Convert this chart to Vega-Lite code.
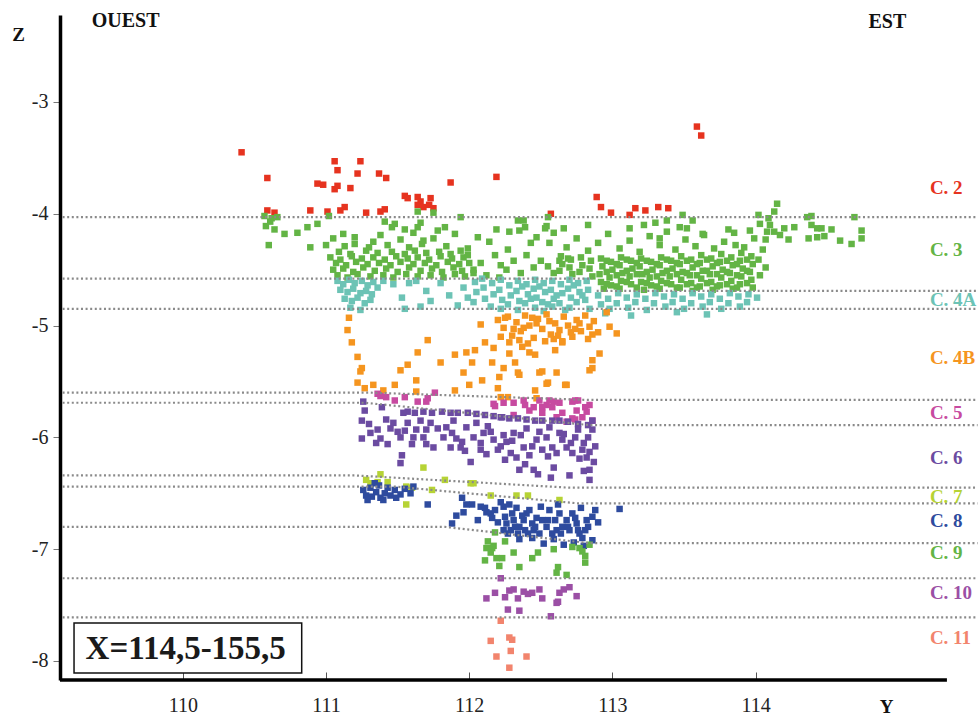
{
"$schema": "https://vega.github.io/schema/vega-lite/v6.json",
"width": 920, "height": 665,
"autosize": {"type": "none"},
"padding": {"left": 60, "top": 15, "right": 0, "bottom": 35},
"background": "white",
"config": {"view": {"stroke": null}, "font": "Liberation Serif"},
"datasets": {
"pts": [
{"y":110.41,"z":-3.45,"c":"2"},{"y":110.59,"z":-3.68,"c":"2"},{"y":110.59,"z":-3.97,"c":"2"},{"y":110.64,"z":-3.99,"c":"2"},{"y":110.89,"z":-3.97,"c":"2"},{"y":110.94,"z":-3.73,"c":"2"},{"y":110.98,"z":-3.74,"c":"2"},{"y":111.01,"z":-3.98,"c":"2"},{"y":111.06,"z":-3.53,"c":"2"},{"y":111.08,"z":-3.61,"c":"2"},{"y":111.06,"z":-3.78,"c":"2"},{"y":111.08,"z":-3.75,"c":"2"},{"y":111.17,"z":-3.77,"c":"2"},{"y":111.10,"z":-3.97,"c":"2"},{"y":111.13,"z":-3.94,"c":"2"},{"y":111.22,"z":-3.64,"c":"2"},{"y":111.24,"z":-3.53,"c":"2"},{"y":111.28,"z":-3.99,"c":"2"},{"y":111.37,"z":-3.64,"c":"2"},{"y":111.42,"z":-3.68,"c":"2"},{"y":111.38,"z":-3.98,"c":"2"},{"y":111.41,"z":-3.96,"c":"2"},{"y":111.55,"z":-3.84,"c":"2"},{"y":111.57,"z":-3.86,"c":"2"},{"y":111.64,"z":-3.85,"c":"2"},{"y":111.66,"z":-3.89,"c":"2"},{"y":111.64,"z":-3.92,"c":"2"},{"y":111.68,"z":-3.94,"c":"2"},{"y":111.73,"z":-3.86,"c":"2"},{"y":111.72,"z":-3.92,"c":"2"},{"y":111.75,"z":-3.95,"c":"2"},{"y":111.87,"z":-3.72,"c":"2"},{"y":112.19,"z":-3.67,"c":"2"},{"y":112.57,"z":-4.00,"c":"2"},{"y":112.89,"z":-3.85,"c":"2"},{"y":112.92,"z":-3.94,"c":"2"},{"y":112.99,"z":-3.99,"c":"2"},{"y":113.12,"z":-4.01,"c":"2"},{"y":113.16,"z":-3.95,"c":"2"},{"y":113.23,"z":-3.97,"c":"2"},{"y":113.32,"z":-3.94,"c":"2"},{"y":113.39,"z":-3.95,"c":"2"},{"y":113.59,"z":-3.22,"c":"2"},{"y":113.62,"z":-3.30,"c":"2"},
{"y":110.57,"z":-4.02,"c":"3"},{"y":110.61,"z":-4.07,"c":"3"},{"y":110.58,"z":-4.11,"c":"3"},{"y":110.64,"z":-4.14,"c":"3"},{"y":110.60,"z":-4.28,"c":"3"},{"y":110.71,"z":-4.18,"c":"3"},{"y":110.80,"z":-4.17,"c":"3"},{"y":110.87,"z":-4.12,"c":"3"},{"y":110.94,"z":-4.09,"c":"3"},{"y":110.89,"z":-4.30,"c":"3"},{"y":111.02,"z":-4.02,"c":"3"},{"y":110.62,"z":-4.04,"c":"3"},{"y":110.66,"z":-4.03,"c":"3"},{"y":111.41,"z":-4.07,"c":"3"},{"y":111.48,"z":-4.09,"c":"3"},{"y":111.64,"z":-3.98,"c":"3"},{"y":111.75,"z":-3.99,"c":"3"},{"y":111.66,"z":-4.08,"c":"3"},{"y":111.64,"z":-4.12,"c":"3"},{"y":111.83,"z":-4.12,"c":"3"},{"y":111.94,"z":-4.03,"c":"3"},{"y":112.19,"z":-4.14,"c":"3"},{"y":112.34,"z":-4.06,"c":"3"},{"y":112.39,"z":-4.12,"c":"3"},{"y":112.54,"z":-4.11,"c":"3"},{"y":112.55,"z":-4.03,"c":"3"},{"y":112.83,"z":-4.10,"c":"3"},{"y":113.12,"z":-4.13,"c":"3"},{"y":113.22,"z":-4.10,"c":"3"},{"y":113.30,"z":-4.08,"c":"3"},{"y":111.05,"z":-4.22,"c":"3"},{"y":111.12,"z":-4.18,"c":"3"},{"y":111.20,"z":-4.27,"c":"3"},{"y":111.00,"z":-4.28,"c":"3"},
{"y":111.08,"z":-4.55,"c":"3"},{"y":111.15,"z":-4.57,"c":"3"},{"y":111.22,"z":-4.54,"c":"3"},{"y":111.31,"z":-4.56,"c":"3"},{"y":111.40,"z":-4.55,"c":"3"},{"y":111.47,"z":-4.57,"c":"3"},{"y":111.56,"z":-4.54,"c":"3"},{"y":111.64,"z":-4.56,"c":"3"},{"y":111.73,"z":-4.55,"c":"3"},{"y":111.82,"z":-4.57,"c":"3"},{"y":111.90,"z":-4.54,"c":"3"},{"y":111.97,"z":-4.56,"c":"3"},
{"y":111.05,"z":-4.50,"c":"3"},{"y":111.12,"z":-4.49,"c":"3"},{"y":111.19,"z":-4.52,"c":"3"},{"y":111.26,"z":-4.48,"c":"3"},{"y":111.34,"z":-4.51,"c":"3"},{"y":111.42,"z":-4.49,"c":"3"},{"y":111.50,"z":-4.52,"c":"3"},{"y":111.58,"z":-4.48,"c":"3"},{"y":111.66,"z":-4.51,"c":"3"},{"y":111.74,"z":-4.49,"c":"3"},{"y":111.81,"z":-4.52,"c":"3"},{"y":111.89,"z":-4.48,"c":"3"},{"y":111.95,"z":-4.51,"c":"3"},{"y":112.03,"z":-4.53,"c":"3"},
{"y":111.07,"z":-4.44,"c":"3"},{"y":111.14,"z":-4.46,"c":"3"},{"y":111.21,"z":-4.43,"c":"3"},{"y":111.29,"z":-4.45,"c":"3"},{"y":111.37,"z":-4.44,"c":"3"},{"y":111.45,"z":-4.46,"c":"3"},{"y":111.52,"z":-4.43,"c":"3"},{"y":111.61,"z":-4.45,"c":"3"},{"y":111.69,"z":-4.44,"c":"3"},{"y":111.77,"z":-4.46,"c":"3"},{"y":111.85,"z":-4.43,"c":"3"},{"y":111.93,"z":-4.45,"c":"3"},{"y":112.00,"z":-4.44,"c":"3"},
{"y":111.03,"z":-4.39,"c":"3"},{"y":111.10,"z":-4.41,"c":"3"},{"y":111.18,"z":-4.38,"c":"3"},{"y":111.25,"z":-4.40,"c":"3"},{"y":111.33,"z":-4.39,"c":"3"},{"y":111.41,"z":-4.41,"c":"3"},{"y":111.49,"z":-4.38,"c":"3"},{"y":111.57,"z":-4.40,"c":"3"},{"y":111.64,"z":-4.39,"c":"3"},{"y":111.72,"z":-4.41,"c":"3"},{"y":111.80,"z":-4.38,"c":"3"},{"y":111.88,"z":-4.40,"c":"3"},{"y":111.96,"z":-4.39,"c":"3"},
{"y":111.09,"z":-4.34,"c":"3"},{"y":111.17,"z":-4.36,"c":"3"},{"y":111.28,"z":-4.33,"c":"3"},{"y":111.36,"z":-4.35,"c":"3"},{"y":111.46,"z":-4.34,"c":"3"},{"y":111.55,"z":-4.36,"c":"3"},{"y":111.62,"z":-4.33,"c":"3"},{"y":111.70,"z":-4.35,"c":"3"},{"y":111.79,"z":-4.34,"c":"3"},{"y":111.87,"z":-4.36,"c":"3"},{"y":111.94,"z":-4.33,"c":"3"},
{"y":111.13,"z":-4.29,"c":"3"},{"y":111.30,"z":-4.30,"c":"3"},{"y":111.43,"z":-4.28,"c":"3"},{"y":111.58,"z":-4.30,"c":"3"},{"y":111.67,"z":-4.27,"c":"3"},{"y":111.84,"z":-4.29,"c":"3"},{"y":111.99,"z":-4.31,"c":"3"},{"y":111.20,"z":-4.21,"c":"3"},{"y":111.38,"z":-4.19,"c":"3"},{"y":111.52,"z":-4.23,"c":"3"},{"y":111.61,"z":-4.17,"c":"3"},{"y":111.75,"z":-4.22,"c":"3"},{"y":111.90,"z":-4.18,"c":"3"},{"y":111.33,"z":-4.25,"c":"3"},{"y":111.68,"z":-4.24,"c":"3"},{"y":111.55,"z":-4.14,"c":"3"},{"y":111.46,"z":-4.12,"c":"3"},{"y":111.78,"z":-4.15,"c":"3"},
{"y":111.99,"z":-4.37,"c":"3"},{"y":112.06,"z":-4.21,"c":"3"},{"y":112.14,"z":-4.25,"c":"3"},{"y":112.18,"z":-4.37,"c":"3"},{"y":112.27,"z":-4.32,"c":"3"},{"y":112.28,"z":-4.16,"c":"3"},{"y":112.35,"z":-4.15,"c":"3"},{"y":112.38,"z":-4.06,"c":"3"},{"y":112.43,"z":-4.26,"c":"3"},{"y":112.47,"z":-4.21,"c":"3"},{"y":112.53,"z":-4.13,"c":"3"},{"y":112.56,"z":-4.26,"c":"3"},{"y":112.59,"z":-4.17,"c":"3"},{"y":112.66,"z":-4.13,"c":"3"},{"y":112.69,"z":-4.40,"c":"3"},{"y":112.03,"z":-4.50,"c":"3"},{"y":112.12,"z":-4.55,"c":"3"},{"y":112.21,"z":-4.57,"c":"3"},{"y":112.26,"z":-4.50,"c":"3"},{"y":112.31,"z":-4.42,"c":"3"},{"y":112.40,"z":-4.37,"c":"3"},{"y":112.45,"z":-4.48,"c":"3"},{"y":112.50,"z":-4.42,"c":"3"},{"y":112.59,"z":-4.53,"c":"3"},{"y":112.63,"z":-4.42,"c":"3"},{"y":112.08,"z":-4.44,"c":"3"},{"y":112.22,"z":-4.46,"c":"3"},{"y":112.36,"z":-4.53,"c":"3"},{"y":112.55,"z":-4.47,"c":"3"},
{"y":112.64,"z":-4.38,"c":"3"},{"y":112.65,"z":-4.45,"c":"3"},{"y":112.63,"z":-4.51,"c":"3"},{"y":112.71,"z":-4.41,"c":"3"},{"y":112.70,"z":-4.48,"c":"3"},{"y":112.72,"z":-4.54,"c":"3"},{"y":112.78,"z":-4.39,"c":"3"},{"y":112.79,"z":-4.46,"c":"3"},{"y":112.77,"z":-4.52,"c":"3"},{"y":112.85,"z":-4.42,"c":"3"},{"y":112.84,"z":-4.49,"c":"3"},{"y":112.86,"z":-4.56,"c":"3"},
{"y":112.92,"z":-4.40,"c":"3"},{"y":112.93,"z":-4.47,"c":"3"},{"y":112.91,"z":-4.54,"c":"3"},{"y":112.92,"z":-4.61,"c":"3"},{"y":112.94,"z":-4.67,"c":"3"},{"y":112.99,"z":-4.43,"c":"3"},{"y":113.00,"z":-4.50,"c":"3"},{"y":112.98,"z":-4.57,"c":"3"},{"y":112.99,"z":-4.64,"c":"3"},{"y":113.06,"z":-4.39,"c":"3"},{"y":113.05,"z":-4.46,"c":"3"},{"y":113.07,"z":-4.53,"c":"3"},{"y":113.06,"z":-4.60,"c":"3"},{"y":113.05,"z":-4.67,"c":"3"},{"y":113.13,"z":-4.42,"c":"3"},{"y":113.14,"z":-4.49,"c":"3"},{"y":113.12,"z":-4.56,"c":"3"},{"y":113.13,"z":-4.63,"c":"3"},{"y":113.20,"z":-4.40,"c":"3"},{"y":113.19,"z":-4.47,"c":"3"},{"y":113.21,"z":-4.54,"c":"3"},{"y":113.20,"z":-4.61,"c":"3"},{"y":113.22,"z":-4.68,"c":"3"},{"y":113.27,"z":-4.43,"c":"3"},{"y":113.28,"z":-4.50,"c":"3"},{"y":113.26,"z":-4.57,"c":"3"},{"y":113.27,"z":-4.64,"c":"3"},{"y":113.34,"z":-4.39,"c":"3"},{"y":113.33,"z":-4.46,"c":"3"},{"y":113.35,"z":-4.53,"c":"3"},{"y":113.34,"z":-4.60,"c":"3"},{"y":113.33,"z":-4.67,"c":"3"},{"y":113.41,"z":-4.42,"c":"3"},{"y":113.42,"z":-4.49,"c":"3"},{"y":113.40,"z":-4.56,"c":"3"},{"y":113.41,"z":-4.63,"c":"3"},{"y":113.48,"z":-4.38,"c":"3"},{"y":113.47,"z":-4.45,"c":"3"},{"y":113.49,"z":-4.52,"c":"3"},{"y":113.48,"z":-4.59,"c":"3"},{"y":113.47,"z":-4.66,"c":"3"},{"y":113.55,"z":-4.41,"c":"3"},{"y":113.56,"z":-4.48,"c":"3"},{"y":113.54,"z":-4.55,"c":"3"},{"y":113.55,"z":-4.62,"c":"3"},{"y":113.56,"z":-4.69,"c":"3"},{"y":113.62,"z":-4.37,"c":"3"},{"y":113.61,"z":-4.44,"c":"3"},{"y":113.63,"z":-4.51,"c":"3"},{"y":113.62,"z":-4.58,"c":"3"},{"y":113.61,"z":-4.65,"c":"3"},{"y":113.69,"z":-4.40,"c":"3"},{"y":113.70,"z":-4.47,"c":"3"},{"y":113.68,"z":-4.54,"c":"3"},{"y":113.69,"z":-4.61,"c":"3"},{"y":113.70,"z":-4.68,"c":"3"},{"y":113.76,"z":-4.36,"c":"3"},{"y":113.75,"z":-4.43,"c":"3"},{"y":113.77,"z":-4.50,"c":"3"},{"y":113.76,"z":-4.57,"c":"3"},{"y":113.75,"z":-4.64,"c":"3"},{"y":113.83,"z":-4.39,"c":"3"},{"y":113.84,"z":-4.46,"c":"3"},{"y":113.82,"z":-4.53,"c":"3"},{"y":113.83,"z":-4.60,"c":"3"},{"y":113.84,"z":-4.67,"c":"3"},{"y":113.90,"z":-4.35,"c":"3"},{"y":113.89,"z":-4.42,"c":"3"},{"y":113.91,"z":-4.49,"c":"3"},{"y":113.90,"z":-4.56,"c":"3"},{"y":113.89,"z":-4.63,"c":"3"},{"y":113.97,"z":-4.38,"c":"3"},{"y":113.98,"z":-4.45,"c":"3"},{"y":113.96,"z":-4.52,"c":"3"},{"y":113.97,"z":-4.59,"c":"3"},{"y":113.98,"z":-4.66,"c":"3"},{"y":114.02,"z":-4.41,"c":"3"},{"y":114.03,"z":-4.55,"c":"3"},
{"y":112.96,"z":-4.42,"c":"3"},{"y":112.96,"z":-4.52,"c":"3"},{"y":112.96,"z":-4.63,"c":"3"},{"y":113.03,"z":-4.45,"c":"3"},{"y":113.03,"z":-4.55,"c":"3"},{"y":113.03,"z":-4.65,"c":"3"},{"y":113.10,"z":-4.41,"c":"3"},{"y":113.10,"z":-4.51,"c":"3"},{"y":113.10,"z":-4.61,"c":"3"},{"y":113.17,"z":-4.44,"c":"3"},{"y":113.17,"z":-4.54,"c":"3"},{"y":113.17,"z":-4.66,"c":"3"},{"y":113.24,"z":-4.42,"c":"3"},{"y":113.24,"z":-4.52,"c":"3"},{"y":113.24,"z":-4.62,"c":"3"},{"y":113.31,"z":-4.45,"c":"3"},{"y":113.31,"z":-4.56,"c":"3"},{"y":113.31,"z":-4.65,"c":"3"},{"y":113.38,"z":-4.41,"c":"3"},{"y":113.38,"z":-4.51,"c":"3"},{"y":113.38,"z":-4.62,"c":"3"},{"y":113.45,"z":-4.44,"c":"3"},{"y":113.45,"z":-4.54,"c":"3"},{"y":113.45,"z":-4.66,"c":"3"},{"y":113.52,"z":-4.42,"c":"3"},{"y":113.52,"z":-4.53,"c":"3"},{"y":113.52,"z":-4.63,"c":"3"},{"y":113.59,"z":-4.45,"c":"3"},{"y":113.59,"z":-4.55,"c":"3"},{"y":113.59,"z":-4.66,"c":"3"},{"y":113.66,"z":-4.41,"c":"3"},{"y":113.66,"z":-4.51,"c":"3"},{"y":113.66,"z":-4.62,"c":"3"},{"y":113.73,"z":-4.44,"c":"3"},{"y":113.73,"z":-4.54,"c":"3"},{"y":113.73,"z":-4.65,"c":"3"},{"y":113.80,"z":-4.42,"c":"3"},{"y":113.80,"z":-4.52,"c":"3"},{"y":113.80,"z":-4.63,"c":"3"},{"y":113.87,"z":-4.45,"c":"3"},{"y":113.87,"z":-4.55,"c":"3"},{"y":113.87,"z":-4.66,"c":"3"},{"y":113.94,"z":-4.41,"c":"3"},{"y":113.94,"z":-4.51,"c":"3"},{"y":113.94,"z":-4.62,"c":"3"},
{"y":112.68,"z":-4.30,"c":"3"},{"y":112.75,"z":-4.22,"c":"3"},{"y":112.83,"z":-4.33,"c":"3"},{"y":112.90,"z":-4.26,"c":"3"},{"y":112.97,"z":-4.18,"c":"3"},{"y":113.05,"z":-4.31,"c":"3"},{"y":113.12,"z":-4.24,"c":"3"},{"y":113.19,"z":-4.34,"c":"3"},{"y":113.26,"z":-4.20,"c":"3"},{"y":113.33,"z":-4.28,"c":"3"},{"y":113.38,"z":-4.16,"c":"3"},{"y":113.44,"z":-4.32,"c":"3"},{"y":113.51,"z":-4.23,"c":"3"},{"y":113.58,"z":-4.29,"c":"3"},{"y":113.64,"z":-4.19,"c":"3"},{"y":113.71,"z":-4.31,"c":"3"},{"y":113.78,"z":-4.25,"c":"3"},{"y":113.85,"z":-4.17,"c":"3"},{"y":113.92,"z":-4.30,"c":"3"},{"y":113.99,"z":-4.22,"c":"3"},{"y":113.47,"z":-4.12,"c":"3"},{"y":113.86,"z":-4.28,"c":"3"},{"y":113.49,"z":-4.01,"c":"3"},{"y":113.56,"z":-4.06,"c":"3"},{"y":113.38,"z":-4.06,"c":"3"},{"y":113.52,"z":-4.13,"c":"3"},{"y":113.33,"z":-4.22,"c":"3"},{"y":113.81,"z":-4.14,"c":"3"},{"y":114.02,"z":-4.01,"c":"3"},{"y":114.03,"z":-4.09,"c":"3"},{"y":113.96,"z":-4.15,"c":"3"},{"y":113.63,"z":-4.18,"c":"3"},
{"y":114.15,"z":-3.91,"c":"3"},{"y":114.13,"z":-3.98,"c":"3"},{"y":114.09,"z":-4.04,"c":"3"},{"y":114.36,"z":-4.03,"c":"3"},{"y":114.39,"z":-4.02,"c":"3"},{"y":114.69,"z":-4.03,"c":"3"},{"y":114.39,"z":-4.10,"c":"3"},{"y":114.43,"z":-4.13,"c":"3"},{"y":114.46,"z":-4.13,"c":"3"},{"y":114.53,"z":-4.14,"c":"3"},{"y":114.74,"z":-4.15,"c":"3"},{"y":114.37,"z":-4.22,"c":"3"},{"y":114.43,"z":-4.21,"c":"3"},{"y":114.48,"z":-4.20,"c":"3"},{"y":114.59,"z":-4.24,"c":"3"},{"y":114.67,"z":-4.27,"c":"3"},{"y":114.74,"z":-4.22,"c":"3"},{"y":114.23,"z":-4.23,"c":"3"},{"y":114.17,"z":-4.19,"c":"3"},{"y":114.13,"z":-4.16,"c":"3"},{"y":114.08,"z":-4.16,"c":"3"},{"y":114.07,"z":-4.23,"c":"3"},{"y":114.20,"z":-4.13,"c":"3"},{"y":114.10,"z":-4.10,"c":"3"},{"y":114.27,"z":-4.12,"c":"3"},{"y":114.07,"z":-4.48,"c":"3"},{"y":114.05,"z":-4.32,"c":"3"},
{"y":111.08,"z":-4.60,"c":"4A"},{"y":111.12,"z":-4.63,"c":"4A"},{"y":111.16,"z":-4.59,"c":"4A"},{"y":111.20,"z":-4.62,"c":"4A"},{"y":111.25,"z":-4.60,"c":"4A"},{"y":111.29,"z":-4.64,"c":"4A"},{"y":111.33,"z":-4.61,"c":"4A"},{"y":111.10,"z":-4.68,"c":"4A"},{"y":111.15,"z":-4.70,"c":"4A"},{"y":111.19,"z":-4.67,"c":"4A"},{"y":111.24,"z":-4.71,"c":"4A"},{"y":111.28,"z":-4.69,"c":"4A"},{"y":111.32,"z":-4.72,"c":"4A"},{"y":111.36,"z":-4.66,"c":"4A"},{"y":111.13,"z":-4.76,"c":"4A"},{"y":111.18,"z":-4.78,"c":"4A"},{"y":111.22,"z":-4.75,"c":"4A"},{"y":111.27,"z":-4.80,"c":"4A"},{"y":111.31,"z":-4.77,"c":"4A"},{"y":111.17,"z":-4.84,"c":"4A"},{"y":111.24,"z":-4.86,"c":"4A"},
{"y":111.40,"z":-4.60,"c":"4A"},{"y":111.47,"z":-4.63,"c":"4A"},{"y":111.53,"z":-4.75,"c":"4A"},{"y":111.58,"z":-4.62,"c":"4A"},{"y":111.63,"z":-4.60,"c":"4A"},{"y":111.70,"z":-4.69,"c":"4A"},{"y":111.73,"z":-4.78,"c":"4A"},{"y":111.80,"z":-4.62,"c":"4A"},{"y":111.86,"z":-4.73,"c":"4A"},{"y":111.92,"z":-4.82,"c":"4A"},{"y":111.96,"z":-4.66,"c":"4A"},{"y":111.99,"z":-4.75,"c":"4A"},{"y":111.55,"z":-4.85,"c":"4A"},{"y":111.66,"z":-4.83,"c":"4A"},
{"y":112.04,"z":-4.61,"c":"4A"},{"y":112.05,"z":-4.70,"c":"4A"},{"y":112.03,"z":-4.79,"c":"4A"},{"y":112.10,"z":-4.66,"c":"4A"},{"y":112.11,"z":-4.76,"c":"4A"},{"y":112.09,"z":-4.58,"c":"4A"},{"y":112.16,"z":-4.62,"c":"4A"},{"y":112.17,"z":-4.72,"c":"4A"},{"y":112.15,"z":-4.83,"c":"4A"},{"y":112.22,"z":-4.59,"c":"4A"},{"y":112.21,"z":-4.68,"c":"4A"},{"y":112.23,"z":-4.77,"c":"4A"},{"y":112.22,"z":-4.85,"c":"4A"},{"y":112.28,"z":-4.64,"c":"4A"},{"y":112.29,"z":-4.73,"c":"4A"},{"y":112.27,"z":-4.81,"c":"4A"},{"y":112.34,"z":-4.60,"c":"4A"},{"y":112.33,"z":-4.69,"c":"4A"},{"y":112.35,"z":-4.78,"c":"4A"},{"y":112.34,"z":-4.86,"c":"4A"},{"y":112.40,"z":-4.63,"c":"4A"},{"y":112.41,"z":-4.72,"c":"4A"},{"y":112.39,"z":-4.80,"c":"4A"},{"y":112.46,"z":-4.59,"c":"4A"},{"y":112.45,"z":-4.67,"c":"4A"},{"y":112.47,"z":-4.75,"c":"4A"},{"y":112.46,"z":-4.84,"c":"4A"},{"y":112.52,"z":-4.62,"c":"4A"},{"y":112.53,"z":-4.70,"c":"4A"},{"y":112.51,"z":-4.79,"c":"4A"},{"y":112.52,"z":-4.87,"c":"4A"},{"y":112.58,"z":-4.60,"c":"4A"},{"y":112.57,"z":-4.68,"c":"4A"},{"y":112.59,"z":-4.76,"c":"4A"},{"y":112.58,"z":-4.83,"c":"4A"},{"y":112.64,"z":-4.63,"c":"4A"},{"y":112.65,"z":-4.71,"c":"4A"},{"y":112.63,"z":-4.80,"c":"4A"},{"y":112.70,"z":-4.59,"c":"4A"},{"y":112.69,"z":-4.67,"c":"4A"},{"y":112.71,"z":-4.75,"c":"4A"},{"y":112.70,"z":-4.84,"c":"4A"},{"y":112.76,"z":-4.62,"c":"4A"},{"y":112.77,"z":-4.70,"c":"4A"},{"y":112.75,"z":-4.79,"c":"4A"},{"y":112.82,"z":-4.60,"c":"4A"},{"y":112.83,"z":-4.68,"c":"4A"},{"y":112.81,"z":-4.77,"c":"4A"},{"y":112.84,"z":-4.85,"c":"4A"},{"y":112.49,"z":-4.65,"c":"4A"},{"y":112.61,"z":-4.73,"c":"4A"},{"y":112.73,"z":-4.64,"c":"4A"},{"y":112.55,"z":-4.81,"c":"4A"},{"y":112.67,"z":-4.86,"c":"4A"},{"y":112.79,"z":-4.73,"c":"4A"},{"y":112.43,"z":-4.76,"c":"4A"},{"y":112.37,"z":-4.65,"c":"4A"},
{"y":112.90,"z":-4.73,"c":"4A"},{"y":112.92,"z":-4.81,"c":"4A"},{"y":112.97,"z":-4.76,"c":"4A"},{"y":112.98,"z":-4.85,"c":"4A"},{"y":113.04,"z":-4.71,"c":"4A"},{"y":113.03,"z":-4.80,"c":"4A"},{"y":113.10,"z":-4.75,"c":"4A"},{"y":113.11,"z":-4.84,"c":"4A"},{"y":113.17,"z":-4.72,"c":"4A"},{"y":113.16,"z":-4.79,"c":"4A"},{"y":113.23,"z":-4.76,"c":"4A"},{"y":113.24,"z":-4.86,"c":"4A"},{"y":113.30,"z":-4.71,"c":"4A"},{"y":113.29,"z":-4.80,"c":"4A"},{"y":113.36,"z":-4.74,"c":"4A"},{"y":113.37,"z":-4.83,"c":"4A"},{"y":113.43,"z":-4.72,"c":"4A"},{"y":113.42,"z":-4.79,"c":"4A"},{"y":113.49,"z":-4.76,"c":"4A"},{"y":113.50,"z":-4.85,"c":"4A"},{"y":113.56,"z":-4.71,"c":"4A"},{"y":113.55,"z":-4.80,"c":"4A"},{"y":113.62,"z":-4.74,"c":"4A"},{"y":113.63,"z":-4.83,"c":"4A"},{"y":113.69,"z":-4.72,"c":"4A"},{"y":113.68,"z":-4.79,"c":"4A"},{"y":113.75,"z":-4.76,"c":"4A"},{"y":113.76,"z":-4.85,"c":"4A"},{"y":113.82,"z":-4.71,"c":"4A"},{"y":113.81,"z":-4.80,"c":"4A"},{"y":113.88,"z":-4.74,"c":"4A"},{"y":113.89,"z":-4.83,"c":"4A"},{"y":113.95,"z":-4.72,"c":"4A"},{"y":113.94,"z":-4.79,"c":"4A"},{"y":114.01,"z":-4.75,"c":"4A"},{"y":113.13,"z":-4.91,"c":"4A"},{"y":113.66,"z":-4.90,"c":"4A"},{"y":113.45,"z":-4.88,"c":"4A"},{"y":112.95,"z":-4.89,"c":"4A"},
{"y":111.16,"z":-4.93,"c":"4B"},{"y":111.15,"z":-5.04,"c":"4B"},{"y":111.18,"z":-5.15,"c":"4B"},{"y":111.22,"z":-5.28,"c":"4B"},{"y":111.25,"z":-5.38,"c":"4B"},{"y":111.24,"z":-5.41,"c":"4B"},{"y":111.22,"z":-5.51,"c":"4B"},{"y":111.27,"z":-5.56,"c":"4B"},{"y":111.33,"z":-5.53,"c":"4B"},{"y":111.40,"z":-5.58,"c":"4B"},{"y":111.48,"z":-5.53,"c":"4B"},{"y":111.52,"z":-5.40,"c":"4B"},{"y":111.57,"z":-5.35,"c":"4B"},{"y":111.63,"z":-5.49,"c":"4B"},{"y":111.63,"z":-5.59,"c":"4B"},{"y":111.64,"z":-5.24,"c":"4B"},{"y":111.71,"z":-5.13,"c":"4B"},{"y":111.80,"z":-5.33,"c":"4B"},{"y":111.90,"z":-5.26,"c":"4B"},{"y":111.90,"z":-5.58,"c":"4B"},{"y":111.96,"z":-5.42,"c":"4B"},{"y":112.00,"z":-5.53,"c":"4B"},{"y":112.08,"z":-4.99,"c":"4B"},{"y":111.98,"z":-5.24,"c":"4B"},{"y":112.04,"z":-5.22,"c":"4B"},{"y":112.11,"z":-5.15,"c":"4B"},{"y":112.17,"z":-5.20,"c":"4B"},{"y":112.02,"z":-5.33,"c":"4B"},{"y":112.16,"z":-5.33,"c":"4B"},{"y":112.24,"z":-5.38,"c":"4B"},{"y":112.21,"z":-5.46,"c":"4B"},{"y":112.09,"z":-5.49,"c":"4B"},{"y":112.20,"z":-5.56,"c":"4B"},{"y":112.22,"z":-5.64,"c":"4B"},{"y":112.27,"z":-5.64,"c":"4B"},{"y":112.34,"z":-5.42,"c":"4B"},{"y":112.32,"z":-5.33,"c":"4B"},{"y":112.28,"z":-5.25,"c":"4B"},{"y":112.37,"z":-5.19,"c":"4B"},{"y":112.42,"z":-5.24,"c":"4B"},{"y":112.46,"z":-5.26,"c":"4B"},{"y":112.49,"z":-5.42,"c":"4B"},{"y":112.51,"z":-5.41,"c":"4B"},{"y":112.55,"z":-5.51,"c":"4B"},{"y":112.46,"z":-5.58,"c":"4B"},{"y":112.61,"z":-5.42,"c":"4B"},{"y":112.68,"z":-5.53,"c":"4B"},{"y":112.60,"z":-5.22,"c":"4B"},{"y":112.65,"z":-5.15,"c":"4B"},{"y":112.86,"z":-5.31,"c":"4B"},{"y":112.86,"z":-5.38,"c":"4B"},{"y":112.91,"z":-5.25,"c":"4B"},{"y":112.98,"z":-5.01,"c":"4B"},{"y":113.03,"z":-5.07,"c":"4B"},{"y":112.96,"z":-4.88,"c":"4B"},{"y":112.35,"z":-5.44,"c":"4B"},{"y":112.54,"z":-5.52,"c":"4B"},{"y":112.67,"z":-5.53,"c":"4B"},{"y":112.47,"z":-5.65,"c":"4B"},{"y":112.84,"z":-5.40,"c":"4B"},
{"y":112.20,"z":-4.95,"c":"4B"},{"y":112.24,"z":-5.02,"c":"4B"},{"y":112.27,"z":-4.92,"c":"4B"},{"y":112.30,"z":-5.09,"c":"4B"},{"y":112.33,"z":-4.97,"c":"4B"},{"y":112.36,"z":-5.05,"c":"4B"},{"y":112.39,"z":-4.91,"c":"4B"},{"y":112.42,"z":-5.00,"c":"4B"},{"y":112.45,"z":-5.11,"c":"4B"},{"y":112.48,"z":-4.94,"c":"4B"},{"y":112.51,"z":-5.03,"c":"4B"},{"y":112.54,"z":-4.90,"c":"4B"},{"y":112.57,"z":-5.08,"c":"4B"},{"y":112.60,"z":-4.98,"c":"4B"},{"y":112.63,"z":-5.04,"c":"4B"},{"y":112.66,"z":-4.92,"c":"4B"},{"y":112.69,"z":-5.00,"c":"4B"},{"y":112.72,"z":-5.10,"c":"4B"},{"y":112.75,"z":-4.95,"c":"4B"},{"y":112.78,"z":-5.05,"c":"4B"},{"y":112.81,"z":-4.91,"c":"4B"},{"y":112.84,"z":-5.01,"c":"4B"},{"y":112.87,"z":-4.96,"c":"4B"},{"y":112.90,"z":-5.06,"c":"4B"},{"y":112.22,"z":-5.10,"c":"4B"},{"y":112.28,"z":-5.15,"c":"4B"},{"y":112.35,"z":-5.13,"c":"4B"},{"y":112.41,"z":-5.16,"c":"4B"},{"y":112.47,"z":-4.98,"c":"4B"},{"y":112.53,"z":-5.14,"c":"4B"},{"y":112.59,"z":-5.12,"c":"4B"},{"y":112.65,"z":-5.14,"c":"4B"},{"y":112.71,"z":-5.06,"c":"4B"},{"y":112.77,"z":-4.98,"c":"4B"},{"y":112.83,"z":-5.12,"c":"4B"},{"y":112.38,"z":-5.02,"c":"4B"},{"y":112.44,"z":-4.93,"c":"4B"},{"y":112.56,"z":-4.96,"c":"4B"},{"y":112.62,"z":-5.09,"c":"4B"},{"y":112.74,"z":-5.03,"c":"4B"},{"y":112.86,"z":-5.08,"c":"4B"},{"y":112.25,"z":-4.93,"c":"4B"},{"y":112.31,"z":-5.03,"c":"4B"},
{"y":111.36,"z":-5.61,"c":"5"},{"y":111.38,"z":-5.63,"c":"5"},{"y":111.42,"z":-5.64,"c":"5"},{"y":111.48,"z":-5.67,"c":"5"},{"y":111.55,"z":-5.64,"c":"5"},{"y":111.64,"z":-5.68,"c":"5"},{"y":111.70,"z":-5.68,"c":"5"},{"y":111.71,"z":-5.65,"c":"5"},{"y":111.76,"z":-5.60,"c":"5"},{"y":112.17,"z":-5.70,"c":"5"},{"y":112.18,"z":-5.72,"c":"5"},{"y":112.24,"z":-5.69,"c":"5"},{"y":112.31,"z":-5.69,"c":"5"},{"y":112.38,"z":-5.67,"c":"5"},{"y":112.39,"z":-5.71,"c":"5"},{"y":112.45,"z":-5.73,"c":"5"},{"y":112.49,"z":-5.67,"c":"5"},{"y":112.51,"z":-5.73,"c":"5"},{"y":112.54,"z":-5.71,"c":"5"},{"y":112.56,"z":-5.67,"c":"5"},{"y":112.58,"z":-5.73,"c":"5"},{"y":112.59,"z":-5.68,"c":"5"},{"y":112.63,"z":-5.69,"c":"5"},{"y":112.65,"z":-5.78,"c":"5"},{"y":112.72,"z":-5.68,"c":"5"},{"y":112.74,"z":-5.67,"c":"5"},{"y":112.76,"z":-5.67,"c":"5"},{"y":112.75,"z":-5.76,"c":"5"},{"y":112.81,"z":-5.73,"c":"5"},{"y":112.82,"z":-5.77,"c":"5"},{"y":112.79,"z":-5.82,"c":"5"},{"y":112.74,"z":-5.84,"c":"5"},{"y":112.72,"z":-5.83,"c":"5"},{"y":112.68,"z":-5.86,"c":"5"},{"y":112.61,"z":-5.82,"c":"5"},{"y":112.51,"z":-5.78,"c":"5"},{"y":112.31,"z":-5.80,"c":"5"},{"y":112.42,"z":-5.76,"c":"5"},{"y":112.86,"z":-5.85,"c":"5"},{"y":112.84,"z":-5.71,"c":"5"},
{"y":111.57,"z":-5.77,"c":"6"},{"y":111.62,"z":-5.78,"c":"6"},{"y":111.68,"z":-5.77,"c":"6"},{"y":111.74,"z":-5.78,"c":"6"},{"y":111.81,"z":-5.77,"c":"6"},{"y":111.87,"z":-5.78,"c":"6"},{"y":111.92,"z":-5.78,"c":"6"},{"y":111.99,"z":-5.78,"c":"6"},{"y":112.05,"z":-5.79,"c":"6"},{"y":112.11,"z":-5.80,"c":"6"},{"y":112.17,"z":-5.81,"c":"6"},{"y":112.23,"z":-5.82,"c":"6"},{"y":112.28,"z":-5.83,"c":"6"},{"y":112.34,"z":-5.83,"c":"6"},{"y":112.40,"z":-5.84,"c":"6"},{"y":112.46,"z":-5.85,"c":"6"},{"y":112.51,"z":-5.85,"c":"6"},{"y":112.58,"z":-5.85,"c":"6"},{"y":112.63,"z":-5.85,"c":"6"},{"y":112.69,"z":-5.86,"c":"6"},{"y":112.76,"z":-5.88,"c":"6"},{"y":112.83,"z":-5.89,"c":"6"},
{"y":111.25,"z":-6.01,"c":"6"},{"y":111.25,"z":-5.85,"c":"6"},{"y":111.27,"z":-5.76,"c":"6"},{"y":111.26,"z":-5.68,"c":"6"},{"y":111.31,"z":-5.96,"c":"6"},{"y":111.36,"z":-5.93,"c":"6"},{"y":111.39,"z":-5.73,"c":"6"},{"y":111.45,"z":-5.92,"c":"6"},{"y":111.47,"z":-5.87,"c":"6"},{"y":111.50,"z":-5.95,"c":"6"},{"y":111.52,"z":-6.00,"c":"6"},{"y":111.54,"z":-5.78,"c":"6"},{"y":111.57,"z":-5.87,"c":"6"},{"y":111.61,"z":-6.00,"c":"6"},{"y":111.63,"z":-5.93,"c":"6"},{"y":111.66,"z":-5.85,"c":"6"},{"y":111.68,"z":-6.00,"c":"6"},{"y":111.70,"z":-5.93,"c":"6"},{"y":111.73,"z":-5.87,"c":"6"},{"y":111.75,"z":-6.09,"c":"6"},{"y":111.82,"z":-6.00,"c":"6"},{"y":111.84,"z":-5.91,"c":"6"},{"y":111.87,"z":-6.09,"c":"6"},{"y":111.89,"z":-5.85,"c":"6"},{"y":111.91,"z":-6.01,"c":"6"},{"y":111.94,"z":-6.09,"c":"6"},{"y":111.98,"z":-5.91,"c":"6"},{"y":112.01,"z":-6.22,"c":"6"},{"y":112.03,"z":-6.00,"c":"6"},{"y":112.05,"z":-5.87,"c":"6"},{"y":112.08,"z":-6.11,"c":"6"},{"y":112.10,"z":-5.96,"c":"6"},{"y":112.15,"z":-5.95,"c":"6"},{"y":112.17,"z":-6.02,"c":"6"},{"y":112.20,"z":-6.11,"c":"6"},{"y":112.22,"z":-5.82,"c":"6"},{"y":112.24,"z":-5.98,"c":"6"},{"y":112.26,"z":-6.04,"c":"6"},{"y":112.29,"z":-6.14,"c":"6"},{"y":112.31,"z":-5.96,"c":"6"},{"y":112.33,"z":-6.18,"c":"6"},{"y":112.35,"z":-6.29,"c":"6"},{"y":112.38,"z":-6.09,"c":"6"},{"y":112.40,"z":-5.92,"c":"6"},{"y":112.42,"z":-6.16,"c":"6"},{"y":112.45,"z":-6.29,"c":"6"},{"y":112.47,"z":-6.02,"c":"6"},{"y":112.51,"z":-6.11,"c":"6"},{"y":112.54,"z":-6.00,"c":"6"},{"y":112.56,"z":-5.91,"c":"6"},{"y":112.58,"z":-6.09,"c":"6"},{"y":112.63,"z":-5.96,"c":"6"},{"y":112.65,"z":-6.02,"c":"6"},{"y":112.68,"z":-6.09,"c":"6"},{"y":112.70,"z":-6.34,"c":"6"},{"y":112.72,"z":-6.14,"c":"6"},{"y":112.74,"z":-6.00,"c":"6"},{"y":112.76,"z":-5.93,"c":"6"},{"y":112.79,"z":-6.11,"c":"6"},{"y":112.80,"z":-6.05,"c":"6"},{"y":112.82,"z":-6.18,"c":"6"},{"y":112.84,"z":-6.13,"c":"6"},{"y":112.84,"z":-6.29,"c":"6"},{"y":112.86,"z":-5.93,"c":"6"},{"y":112.86,"z":-5.85,"c":"6"},{"y":111.53,"z":-6.16,"c":"6"},{"y":111.52,"z":-6.23,"c":"6"},{"y":111.43,"z":-6.06,"c":"6"},{"y":111.38,"z":-6.01,"c":"6"},
{"y":111.30,"z":-5.88,"c":"6"},{"y":111.42,"z":-5.84,"c":"6"},{"y":111.55,"z":-5.94,"c":"6"},{"y":111.60,"z":-6.06,"c":"6"},{"y":111.78,"z":-5.92,"c":"6"},{"y":111.88,"z":-5.96,"c":"6"},{"y":111.95,"z":-6.04,"c":"6"},{"y":112.08,"z":-6.05,"c":"6"},{"y":112.13,"z":-5.90,"c":"6"},{"y":112.22,"z":-6.08,"c":"6"},{"y":112.30,"z":-6.03,"c":"6"},{"y":112.36,"z":-5.98,"c":"6"},{"y":112.44,"z":-6.08,"c":"6"},{"y":112.49,"z":-5.95,"c":"6"},{"y":112.55,"z":-6.17,"c":"6"},{"y":112.61,"z":-6.14,"c":"6"},{"y":112.66,"z":-5.97,"c":"6"},{"y":112.71,"z":-6.05,"c":"6"},{"y":112.77,"z":-6.19,"c":"6"},{"y":112.83,"z":-6.00,"c":"6"},{"y":112.88,"z":-6.08,"c":"6"},{"y":112.87,"z":-6.22,"c":"6"},{"y":112.25,"z":-6.20,"c":"6"},{"y":112.12,"z":-6.15,"c":"6"},{"y":111.97,"z":-6.12,"c":"6"},{"y":111.35,"z":-6.05,"c":"6"},{"y":111.70,"z":-6.06,"c":"6"},{"y":112.39,"z":-6.24,"c":"6"},{"y":112.59,"z":-6.27,"c":"6"},{"y":112.80,"z":-6.30,"c":"6"},{"y":112.48,"z":-6.33,"c":"6"},{"y":112.84,"z":-6.38,"c":"6"},{"y":112.57,"z":-6.36,"c":"6"},
{"y":111.38,"z":-6.33,"c":"7"},{"y":111.68,"z":-6.27,"c":"7"},{"y":111.31,"z":-6.41,"c":"7"},{"y":111.36,"z":-6.40,"c":"7"},{"y":111.43,"z":-6.40,"c":"7"},{"y":111.56,"z":-6.44,"c":"7"},{"y":111.60,"z":-6.45,"c":"7"},{"y":111.74,"z":-6.47,"c":"7"},{"y":111.83,"z":-6.38,"c":"7"},{"y":112.01,"z":-6.41,"c":"7"},{"y":112.03,"z":-6.41,"c":"7"},{"y":112.15,"z":-6.52,"c":"7"},{"y":112.33,"z":-6.52,"c":"7"},{"y":112.41,"z":-6.52,"c":"7"},{"y":112.63,"z":-6.56,"c":"7"},{"y":111.56,"z":-6.60,"c":"7"},{"y":111.28,"z":-6.38,"c":"7"},
{"y":111.26,"z":-6.47,"c":"8"},{"y":111.28,"z":-6.52,"c":"8"},{"y":111.31,"z":-6.45,"c":"8"},{"y":111.32,"z":-6.53,"c":"8"},{"y":111.35,"z":-6.49,"c":"8"},{"y":111.37,"z":-6.43,"c":"8"},{"y":111.38,"z":-6.54,"c":"8"},{"y":111.41,"z":-6.50,"c":"8"},{"y":111.43,"z":-6.45,"c":"8"},{"y":111.45,"z":-6.52,"c":"8"},{"y":111.48,"z":-6.47,"c":"8"},{"y":111.52,"z":-6.51,"c":"8"},{"y":111.55,"z":-6.46,"c":"8"},{"y":111.59,"z":-6.50,"c":"8"},{"y":111.61,"z":-6.44,"c":"8"},{"y":111.34,"z":-6.41,"c":"8"},{"y":111.29,"z":-6.56,"c":"8"},{"y":111.40,"z":-6.56,"c":"8"},{"y":111.49,"z":-6.54,"c":"8"},
{"y":111.71,"z":-6.60,"c":"8"},{"y":111.88,"z":-6.77,"c":"8"},{"y":111.91,"z":-6.70,"c":"8"},{"y":111.96,"z":-6.67,"c":"8"},{"y":112.02,"z":-6.60,"c":"8"},{"y":112.08,"z":-6.62,"c":"8"},{"y":112.12,"z":-6.67,"c":"8"},{"y":112.06,"z":-6.74,"c":"8"},{"y":111.95,"z":-6.54,"c":"8"},{"y":111.98,"z":-6.60,"c":"8"},{"y":112.11,"z":-6.63,"c":"8"},{"y":112.15,"z":-6.68,"c":"8"},{"y":112.18,"z":-6.65,"c":"8"},{"y":112.22,"z":-6.58,"c":"8"},{"y":112.24,"z":-6.62,"c":"8"},{"y":112.25,"z":-6.71,"c":"8"},{"y":112.26,"z":-6.77,"c":"8"},{"y":112.29,"z":-6.83,"c":"8"},{"y":112.30,"z":-6.68,"c":"8"},{"y":112.31,"z":-6.74,"c":"8"},{"y":112.33,"z":-6.63,"c":"8"},{"y":112.34,"z":-6.86,"c":"8"},{"y":112.35,"z":-6.80,"c":"8"},{"y":112.38,"z":-6.74,"c":"8"},{"y":112.39,"z":-6.83,"c":"8"},{"y":112.40,"z":-6.68,"c":"8"},{"y":112.42,"z":-6.65,"c":"8"},{"y":112.44,"z":-6.77,"c":"8"},{"y":112.45,"z":-6.83,"c":"8"},{"y":112.47,"z":-6.72,"c":"8"},{"y":112.49,"z":-6.86,"c":"8"},{"y":112.51,"z":-6.74,"c":"8"},{"y":112.54,"z":-6.80,"c":"8"},{"y":112.56,"z":-6.65,"c":"8"},{"y":112.58,"z":-6.86,"c":"8"},{"y":112.60,"z":-6.74,"c":"8"},{"y":112.61,"z":-6.83,"c":"8"},{"y":112.63,"z":-6.68,"c":"8"},{"y":112.65,"z":-6.80,"c":"8"},{"y":112.68,"z":-6.74,"c":"8"},{"y":112.70,"z":-6.83,"c":"8"},{"y":112.72,"z":-6.68,"c":"8"},{"y":112.75,"z":-6.77,"c":"8"},{"y":112.77,"z":-6.86,"c":"8"},{"y":112.79,"z":-6.90,"c":"8"},{"y":112.81,"z":-6.83,"c":"8"},{"y":112.83,"z":-6.80,"c":"8"},{"y":112.86,"z":-6.71,"c":"8"},{"y":112.82,"z":-6.74,"c":"8"},{"y":112.76,"z":-6.83,"c":"8"},{"y":112.74,"z":-6.72,"c":"8"},{"y":112.69,"z":-6.80,"c":"8"},{"y":112.64,"z":-6.86,"c":"8"},{"y":112.55,"z":-6.74,"c":"8"},{"y":112.46,"z":-6.80,"c":"8"},{"y":112.41,"z":-6.86,"c":"8"},{"y":112.37,"z":-6.70,"c":"8"},{"y":112.32,"z":-6.80,"c":"8"},{"y":112.27,"z":-6.86,"c":"8"},{"y":112.24,"z":-6.83,"c":"8"},{"y":112.28,"z":-6.60,"c":"8"},{"y":112.50,"z":-6.62,"c":"8"},{"y":112.62,"z":-6.60,"c":"8"},{"y":112.78,"z":-6.63,"c":"8"},{"y":112.88,"z":-6.65,"c":"8"},{"y":112.90,"z":-6.76,"c":"8"},{"y":112.86,"z":-6.92,"c":"8"},{"y":112.73,"z":-6.94,"c":"8"},{"y":112.59,"z":-6.91,"c":"8"},{"y":112.44,"z":-6.90,"c":"8"},{"y":112.35,"z":-6.91,"c":"8"},{"y":112.52,"z":-6.95,"c":"8"},{"y":112.66,"z":-6.96,"c":"8"},{"y":112.80,"z":-6.97,"c":"8"},{"y":112.20,"z":-6.76,"c":"8"},{"y":112.16,"z":-6.72,"c":"8"},{"y":113.05,"z":-6.64,"c":"8"},
{"y":112.18,"z":-6.85,"c":"9"},{"y":112.13,"z":-6.93,"c":"9"},{"y":112.17,"z":-6.97,"c":"9"},{"y":112.12,"z":-6.99,"c":"9"},{"y":112.16,"z":-6.99,"c":"9"},{"y":112.19,"z":-7.08,"c":"9"},{"y":112.23,"z":-7.08,"c":"9"},{"y":112.21,"z":-7.15,"c":"9"},{"y":112.31,"z":-7.03,"c":"9"},{"y":112.35,"z":-7.16,"c":"9"},{"y":112.44,"z":-7.08,"c":"9"},{"y":112.48,"z":-7.03,"c":"9"},{"y":112.59,"z":-7.00,"c":"9"},{"y":112.62,"z":-7.16,"c":"9"},{"y":112.61,"z":-7.21,"c":"9"},{"y":112.68,"z":-7.23,"c":"9"},{"y":112.72,"z":-6.98,"c":"9"},{"y":112.77,"z":-6.99,"c":"9"},{"y":112.79,"z":-7.02,"c":"9"},{"y":112.81,"z":-7.06,"c":"9"},{"y":112.81,"z":-7.12,"c":"9"},{"y":112.11,"z":-7.10,"c":"9"},{"y":112.15,"z":-7.03,"c":"9"},{"y":112.84,"z":-6.96,"c":"9"},{"y":112.25,"z":-6.93,"c":"9"},
{"y":112.22,"z":-7.26,"c":"10"},{"y":112.12,"z":-7.44,"c":"10"},{"y":112.18,"z":-7.39,"c":"10"},{"y":112.25,"z":-7.43,"c":"10"},{"y":112.28,"z":-7.37,"c":"10"},{"y":112.31,"z":-7.36,"c":"10"},{"y":112.34,"z":-7.44,"c":"10"},{"y":112.38,"z":-7.38,"c":"10"},{"y":112.41,"z":-7.40,"c":"10"},{"y":112.44,"z":-7.39,"c":"10"},{"y":112.49,"z":-7.36,"c":"10"},{"y":112.51,"z":-7.44,"c":"10"},{"y":112.62,"z":-7.47,"c":"10"},{"y":112.63,"z":-7.39,"c":"10"},{"y":112.66,"z":-7.36,"c":"10"},{"y":112.70,"z":-7.34,"c":"10"},{"y":112.75,"z":-7.42,"c":"10"},{"y":112.27,"z":-7.54,"c":"10"},{"y":112.35,"z":-7.55,"c":"10"},{"y":112.57,"z":-7.60,"c":"10"},{"y":112.61,"z":-7.48,"c":"10"},
{"y":112.22,"z":-7.64,"c":"11"},{"y":112.15,"z":-7.82,"c":"11"},{"y":112.28,"z":-7.79,"c":"11"},{"y":112.30,"z":-7.81,"c":"11"},{"y":112.29,"z":-7.91,"c":"11"},{"y":112.19,"z":-7.96,"c":"11"},{"y":112.40,"z":-7.96,"c":"11"},{"y":112.28,"z":-8.06,"c":"11"}
],
"bounds": [
{"l":"L1","y":109.16,"z":-4.03},{"l":"L1","y":115.55,"z":-4.03},
{"l":"L2a","y":109.16,"z":-4.58},{"l":"L2a","y":112.86,"z":-4.58},
{"l":"L2b","y":112.89,"z":-4.69},{"l":"L2b","y":115.55,"z":-4.69},
{"l":"L3","y":109.16,"z":-4.85},{"l":"L3","y":115.55,"z":-4.85},
{"l":"L4","y":109.16,"z":-5.60},{"l":"L4","y":111.31,"z":-5.60},{"l":"L4","y":112.83,"z":-5.665},{"l":"L4","y":115.55,"z":-5.665},
{"l":"L5","y":109.16,"z":-5.69},{"l":"L5","y":111.27,"z":-5.69},{"l":"L5","y":112.84,"z":-5.89},{"l":"L5","y":115.55,"z":-5.89},
{"l":"L6","y":109.16,"z":-6.34},{"l":"L6","y":111.20,"z":-6.34},{"l":"L6","y":112.70,"z":-6.45},{"l":"L6","y":115.55,"z":-6.45},
{"l":"L7","y":109.16,"z":-6.44},{"l":"L7","y":111.48,"z":-6.44},{"l":"L7","y":112.76,"z":-6.59},{"l":"L7","y":115.55,"z":-6.59},
{"l":"L8","y":109.16,"z":-6.80},{"l":"L8","y":111.83,"z":-6.80},{"l":"L8","y":112.83,"z":-6.945},{"l":"L8","y":115.55,"z":-6.945},
{"l":"L9","y":109.16,"z":-7.26},{"l":"L9","y":115.55,"z":-7.26},
{"l":"L10","y":109.16,"z":-7.61},{"l":"L10","y":115.55,"z":-7.61}
],
"labels": [
{"t":"C. 2","c":"2","y":115.217,"z":-3.77},
{"t":"C. 3","c":"3","y":115.217,"z":-4.32},
{"t":"C. 4A","c":"4A","y":115.217,"z":-4.77},
{"t":"C. 4B","c":"4B","y":115.217,"z":-5.29},
{"t":"C. 5","c":"5","y":115.217,"z":-5.78},
{"t":"C. 6","c":"6","y":115.217,"z":-6.18},
{"t":"C. 7","c":"7","y":115.217,"z":-6.53},
{"t":"C. 8","c":"8","y":115.217,"z":-6.75},
{"t":"C. 9","c":"9","y":115.217,"z":-7.03},
{"t":"C. 10","c":"10","y":115.217,"z":-7.39},
{"t":"C. 11","c":"11","y":115.217,"z":-7.79}
]
},
"resolve": {"axis": {"x": "shared", "y": "shared"}},
"layer": [
{
"data": {"name": "pts"},
"mark": {"type": "point", "shape": "square", "filled": true, "size": 42, "opacity": 1},
"encoding": {
"x": {"field": "y", "type": "quantitative",
  "scale": {"domain": [109.142, 115.567], "nice": false, "zero": false},
  "axis": {"values": [110, 111, 112, 113, 114], "domain": false, "grid": false,
    "tickColor": "#555", "tickSize": -8, "tickWidth": 1,
    "labelFont": "Liberation Serif", "labelFontSize": 20, "labelColor": "#222", "labelPadding": 23,
    "labelExpr": "'' + datum.value",
    "title": "Y", "titleFont": "Liberation Serif", "titleFontSize": 19, "titleFontWeight": "bold", "titleColor": "#111",
    "titleX": 826, "titleY": 26, "titleAlign": "center", "titleBaseline": "middle", "titleAngle": 0}},
"y": {"field": "z", "type": "quantitative",
  "scale": {"domain": [-8.17, -2.222], "nice": false, "zero": false},
  "axis": {"values": [-8, -7, -6, -5, -4, -3], "domainColor": "#000", "domainWidth": 3.5, "grid": false,
    "tickColor": "#777", "tickSize": 7, "tickWidth": 1,
    "labelFont": "Liberation Serif", "labelFontSize": 20, "labelColor": "#222", "labelPadding": 5,
    "labelExpr": "'' + datum.value",
    "title": "Z", "titleFont": "Liberation Serif", "titleFontSize": 19, "titleFontWeight": "bold", "titleColor": "#111",
    "titleX": -42, "titleY": 19, "titleAlign": "center", "titleBaseline": "middle", "titleAngle": 0}},
"color": {"field": "c", "type": "nominal",
  "scale": {"domain": ["2","3","4A","4B","5","6","7","8","9","10","11"],
    "range": ["#e6331f","#63b445","#6cc3b5","#f5951f","#c74aa0","#6b4ba1","#b6d335","#2e4b9e","#63b445","#9b4fa5","#f2846d"]},
  "legend": null}
}
},
{
"data": {"name": "bounds"},
"mark": {"type": "line", "strokeDash": [2, 2.6], "strokeWidth": 2.2, "color": "#8a8a8a", "strokeCap": "butt"},
"encoding": {
"x": {"field": "y", "type": "quantitative"},
"y": {"field": "z", "type": "quantitative"},
"detail": {"field": "l"}
}
},
{
"data": {"name": "labels"},
"mark": {"type": "text", "align": "left", "baseline": "middle", "font": "Liberation Serif", "fontWeight": "bold", "fontSize": 19},
"encoding": {
"x": {"field": "y", "type": "quantitative"},
"y": {"field": "z", "type": "quantitative"},
"text": {"field": "t"},
"color": {"field": "c", "type": "nominal", "legend": null}
}
},
{
"data": {"values": [{"y": 109.142, "b": 115.336, "z": -8.17}]},
"mark": {"type": "rule", "strokeWidth": 3.5, "color": "#000"},
"encoding": {
"x": {"field": "y", "type": "quantitative"},
"x2": {"field": "b"},
"y": {"field": "z", "type": "quantitative"}
}
},
{
"data": {"values": [{"y": 109.24, "b": 110.83, "z": -7.66, "q": -8.107}]},
"mark": {"type": "rect", "fill": "#fff", "stroke": "#111", "strokeWidth": 1.5},
"encoding": {
"x": {"field": "y", "type": "quantitative"},
"x2": {"field": "b"},
"y": {"field": "z", "type": "quantitative"},
"y2": {"field": "q"}
}
},
{
"data": {"values": [{"y": 110.02, "z": -7.895, "t": "X=114,5-155,5"}]},
"mark": {"type": "text", "align": "center", "baseline": "middle", "font": "Liberation Serif", "fontWeight": "bold", "fontSize": 33, "color": "#1a1a1a"},
"encoding": {
"x": {"field": "y", "type": "quantitative"},
"y": {"field": "z", "type": "quantitative"},
"text": {"field": "t"}
}
},
{
"data": {"values": [{"y": 109.60, "z": -2.276, "t": "OUEST"}, {"y": 114.92, "z": -2.285, "t": "EST"}]},
"mark": {"type": "text", "align": "center", "baseline": "middle", "font": "Liberation Serif", "fontWeight": "bold", "fontSize": 20, "color": "#111"},
"encoding": {
"x": {"field": "y", "type": "quantitative"},
"y": {"field": "z", "type": "quantitative"},
"text": {"field": "t"}
}
}
]
}
